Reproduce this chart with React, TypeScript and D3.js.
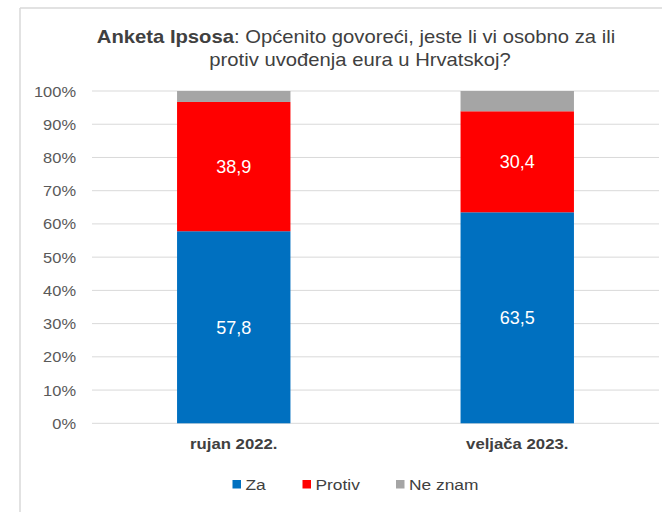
import React from "react";
import * as d3 from "d3";

const categories = ["rujan 2022.", "veljača 2023."];
const seriesNames = ["Za", "Protiv", "Ne znam"];
const za = [57.8, 63.5];
const protiv = [38.9, 30.4];
const neZnam = [3.3, 6.1];
const yTicks = [0, 10, 20, 30, 40, 50, 60, 70, 80, 90, 100];
const colors = ["#0070C0", "#FF0000", "#A5A5A5"];

const W = 662;
const H = 512;
const left = 92;
const right = 659;
const top = 91;
const bottom = 423.3;

function T({ x, y, s = 1.1, children, ...rest }: any) {
  return (
    <text transform={`translate(${x},${y}) scale(${s},1)`} {...rest}>
      {children}
    </text>
  );
}

export default function App() {
  const x = d3.scaleBand<string>().domain(categories).range([left, right]).paddingInner(0.6).paddingOuter(0.3);
  const y = d3.scaleLinear().domain([0, 100]).range([bottom, top]);
  const rows = categories.map((c, i) => ({ cat: c, Za: za[i], Protiv: protiv[i], "Ne znam": neZnam[i] }));
  const stack = d3.stack<any>().keys(seriesNames)(rows);
  const font = "'Liberation Sans', Arial, sans-serif";
  const legendX = [232.5, 302.5, 396];

  return (
    <svg width={W} height={H} style={{ position: "absolute", left: 0, top: 0, fontFamily: font }}>
      <rect x={0} y={0} width={W} height={H} fill="#fff" />
      <line x1={20} x2={W} y1={8} y2={8} stroke="#d9d9d9" strokeWidth={1.5} />
      <line x1={20} x2={20} y1={8} y2={H} stroke="#d9d9d9" strokeWidth={1.5} />
      <T x={356} y={43} s={1.125} textAnchor="middle" fontSize={18} fill="#404040">
        <tspan fontWeight="bold">Anketa Ipsosa</tspan>
        <tspan>: Općenito govoreći, jeste li vi osobno za ili</tspan>
      </T>
      <T x={360} y={66} s={1.125} textAnchor="middle" fontSize={18} fill="#404040">
        protiv uvođenja eura u Hrvatskoj?
      </T>
      {yTicks.map((t) => (
        <g key={t}>
          <line x1={left} x2={right} y1={y(t)} y2={y(t)} stroke="#d9d9d9" strokeWidth={1} />
          <T x={76} y={y(t) + 5.5} s={1.06} textAnchor="end" fontSize={15.5} fill="#595959">
            {t}%
          </T>
        </g>
      ))}
      {stack.map((s, si) =>
        s.map((d, i) => (
          <rect
            key={si + "-" + i}
            x={x(categories[i])}
            width={x.bandwidth()}
            y={y(d[1])}
            height={y(d[0]) - y(d[1])}
            fill={colors[si]}
          />
        ))
      )}
      {stack.slice(0, 2).map((s, si) =>
        s.map((d, i) => (
          <T
            key={"l" + si + "-" + i}
            x={(x(categories[i]) as number) + x.bandwidth() / 2}
            y={(y(d[0]) + y(d[1])) / 2 + 6.5}
            s={1.03}
            textAnchor="middle"
            fontSize={17.5}
            fill="#fff"
          >
            {(d[1] - d[0]).toFixed(1).replace(".", ",")}
          </T>
        ))
      )}
      {categories.map((c) => (
        <T
          key={c}
          x={(x(c) as number) + x.bandwidth() / 2}
          y={449}
          s={1.08}
          textAnchor="middle"
          fontSize={15.5}
          fontWeight="bold"
          fill="#404040"
        >
          {c}
        </T>
      ))}
      {seriesNames.map((n, i) => (
        <g key={n}>
          <rect x={legendX[i]} y={480} width={8.5} height={8.5} fill={colors[i]} />
          <T x={legendX[i] + 13} y={490} s={1.12} fontSize={15.5} fill="#404040">
            {n}
          </T>
        </g>
      ))}
    </svg>
  );
}
